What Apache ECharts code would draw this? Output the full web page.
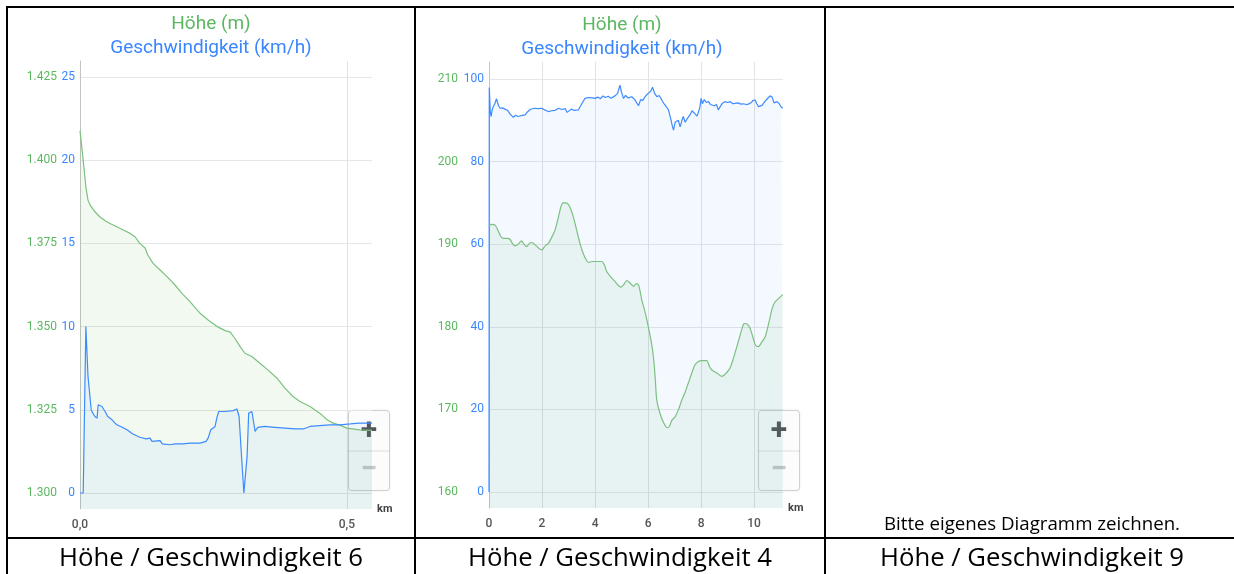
<!DOCTYPE html>
<html>
<head>
<meta charset="utf-8">
<script src="https://cdn.jsdelivr.net/npm/echarts@6/dist/echarts.min.js"></script>
<style>
html,body{margin:0;padding:0;background:#fff;}
body{width:1234px;height:574px;overflow:hidden;position:relative;}
#chart{position:absolute;left:0;top:0;width:1234px;height:574px;}
.ln{position:absolute;background:#000;z-index:5;}
.cap{position:absolute;font-family:'Open Sans',sans-serif;font-size:25.7px;line-height:25px;color:#000;text-align:center;white-space:nowrap;z-index:5;}
.note{position:absolute;font-family:'Open Sans',sans-serif;font-size:18.7px;line-height:18px;color:#000;text-align:center;white-space:nowrap;z-index:5;}
</style>
</head>
<body>
<div id="chart"></div>
<div class="ln" style="left:6px;top:6px;width:1240px;height:2px"></div>
<div class="ln" style="left:6px;top:6px;width:2px;height:580px"></div>
<div class="ln" style="left:414px;top:6px;width:2px;height:580px"></div>
<div class="ln" style="left:824px;top:6px;width:2px;height:580px"></div>
<div class="ln" style="left:6px;top:537px;width:1240px;height:2px"></div>
<div class="cap" style="left:8px;width:406px;top:544px">Höhe / Geschwindigkeit 6</div>
<div class="cap" style="left:416px;width:408px;top:544px">Höhe / Geschwindigkeit 4</div>
<div class="cap" style="left:826px;width:412px;top:544px">Höhe / Geschwindigkeit 9</div>
<div class="note" style="left:826px;width:412px;top:514px">Bitte eigenes Diagramm zeichnen.</div>
<script>
// ---------- Chart 1 (Höhe / Geschwindigkeit 6) ----------
const km1Alt = [0.000,0.006,0.011,0.015,0.019,0.028,0.037,0.047,0.056,0.069,0.081,0.094,0.103,0.112,0.122,0.127,0.137,0.150,0.163,0.178,0.191,0.206,0.225,0.240,0.257,0.272,0.281,0.290,0.300,0.309,0.322,0.337,0.352,0.369,0.384,0.399,0.412,0.431,0.449,0.463,0.474,0.487,0.500,0.524,0.547];
const alt1   = [1408.8,1400,1392,1388,1386.5,1384.5,1383,1381.8,1381,1380,1379,1378,1377,1375,1373.6,1371.5,1369,1367,1365,1362.5,1360,1357.5,1354,1352,1350,1348.8,1348.4,1346.5,1344,1342,1341,1339,1337,1334.5,1331.5,1329,1327.5,1326,1324,1322,1321,1320.4,1319.5,1319,1318.8];
const km1Spd = [0,0.006,0.011,0.015,0.021,0.024,0.028,0.032,0.034,0.041,0.047,0.052,0.060,0.069,0.079,0.088,0.099,0.112,0.124,0.131,0.135,0.150,0.154,0.169,0.178,0.193,0.206,0.225,0.236,0.240,0.245,0.253,0.257,0.260,0.272,0.287,0.294,0.298,0.303,0.307,0.313,0.316,0.322,0.328,0.333,0.346,0.365,0.384,0.403,0.418,0.431,0.449,0.468,0.487,0.506,0.524,0.547];
const spd1   = [0,0,10,7,5.0,4.8,4.6,4.5,5.3,5.2,4.9,4.6,4.4,4.1,3.95,3.8,3.55,3.35,3.25,3.3,3.1,3.15,2.95,2.9,2.95,2.95,3.0,3.0,3.1,3.3,3.8,4.0,4.6,4.9,4.9,4.95,5.05,4.6,2.0,0,2.2,4.8,4.9,3.7,3.95,4.0,3.95,3.9,3.85,3.85,4.0,4.05,4.1,4.1,4.15,4.2,4.2];
const xTicks1   = [0, 0.5];
const spdTicks1 = [0, 5, 10, 15, 20, 25];
const altTicks1 = [1300, 1325, 1350, 1375, 1400, 1425];

// ---------- Chart 2 (Höhe / Geschwindigkeit 4) ----------
const km2Alt = [0.0,0.1,0.23,0.35,0.45,0.54,0.68,0.79,0.9,0.98,1.1,1.23,1.32,1.42,1.52,1.61,1.75,1.88,1.99,2.12,2.24,2.36,2.49,2.62,2.72,2.8,2.9,3.0,3.09,3.18,3.3,3.43,3.55,3.65,3.75,3.9,4.05,4.25,4.35,4.44,4.6,4.75,4.88,4.98,5.1,5.2,5.32,5.45,5.55,5.61,5.68,5.76,5.9,6.01,6.12,6.2,6.27,6.33,6.45,6.6,6.72,6.8,6.9,7.02,7.15,7.27,7.4,7.52,7.65,7.77,7.9,8.03,8.12,8.22,8.3,8.4,8.6,8.78,8.95,9.09,9.22,9.35,9.5,9.6,9.66,9.75,9.85,9.95,10.05,10.16,10.3,10.42,10.55,10.68,10.79,10.95,11.08];
const alt2   = [192.3,192.4,192.3,191.6,190.9,190.7,190.7,190.6,190.0,189.8,190.0,190.4,190.0,189.7,190.1,190.2,189.9,189.5,189.3,189.8,190.1,190.8,191.7,193.3,194.6,195.0,195.0,194.8,194.2,193.3,191.8,190.1,188.9,188.2,187.8,187.9,187.9,187.9,187.5,186.7,186.0,185.5,185.0,184.8,185.2,185.6,185.3,184.9,185.2,185.2,184.6,183.3,181.6,180.0,178.2,176.4,173.8,171.1,169.5,168.3,167.8,167.9,168.7,169.1,170.0,171.1,172.1,173.2,174.4,175.4,175.8,175.9,175.9,175.9,175.3,174.8,174.4,174.0,174.4,175.0,176.2,177.6,179.3,180.3,180.4,180.3,179.8,178.8,177.8,177.6,178.2,178.8,180.4,182.2,183.0,183.5,183.9];
const km2Spd = [0,0.01,0.05,0.08,0.12,0.16,0.22,0.28,0.31,0.36,0.42,0.5,0.6,0.7,0.8,0.92,1.0,1.1,1.2,1.36,1.45,1.55,1.7,1.85,1.99,2.1,2.24,2.35,2.5,2.62,2.75,2.88,2.95,3.0,3.1,3.2,3.37,3.5,3.62,3.75,3.9,4.0,4.1,4.2,4.3,4.38,4.5,4.6,4.75,4.85,4.94,5.0,5.07,5.15,5.25,5.38,5.5,5.64,5.72,5.8,5.89,6.0,6.1,6.17,6.25,6.33,6.42,6.52,6.6,6.7,6.77,6.85,6.92,6.96,7.02,7.08,7.14,7.21,7.27,7.33,7.4,7.46,7.52,7.6,7.66,7.71,7.78,7.85,7.9,7.95,8.0,8.05,8.12,8.2,8.28,8.35,8.42,8.5,8.58,8.65,8.72,8.8,8.9,9.0,9.1,9.2,9.28,9.4,9.5,9.6,9.7,9.78,9.9,9.96,10.04,10.1,10.17,10.23,10.3,10.4,10.5,10.6,10.68,10.75,10.86,10.95,11.02,11.08];
const spd2   = [0,97.9,92,90.9,92.5,93.3,94,95.2,94.9,93.5,92.9,93,92.7,92.4,91.5,90.7,91.2,90.9,91.1,91.3,92,92.6,92.9,92.8,92.9,92.5,92.1,92.3,92.4,92.9,92.6,92.8,91.9,92.1,92.7,92.4,92.5,94,95.3,95.5,95.4,95.3,95.6,95.2,95.9,95.5,95.8,95.3,95.9,96.5,98.5,96.8,95.3,96,95.4,95.7,95.0,93.5,95,94.8,95.7,96.5,97,98.0,96.5,95.7,96.0,94.9,94,93.2,92.5,90.5,88.5,87.6,89.5,89.3,90,88.4,89.8,90.9,89.5,90.2,90.5,91.5,92.3,92.5,91.5,91.0,91.3,93,95.3,94,95,94.3,94.5,93.8,94.2,93.5,93.8,92.5,93.3,94.1,94.5,94.3,94.5,94.0,94.1,94.2,93.9,94.0,93.8,93.9,94.3,94.8,94.9,94.0,93.3,92.9,93.6,94.5,95.2,95.9,95.6,94.2,94.5,94.0,93.2,92.9];
const xTicks2   = [0, 2, 4, 6, 8, 10];
const spdTicks2 = [0, 20, 40, 60, 80, 100];
const altTicks2 = [160, 170, 180, 190, 200, 210];

const GREEN = '#5cb860', BLUE = '#3a86ff';
const GREEN_LINE = '#7cc17f', BLUE_LINE = '#3d8bff';
const zip = (xs, ys) => xs.map((x, i) => [x, ys[i]]);
const deNum = v => v >= 1000 ? Math.floor(v / 1000) + '.' + String(v % 1000).padStart(3, '0') : String(v);

function xAxisCfg(grid, max, ticks, fmt) {
  return {
    gridIndex: grid, type: 'value', min: 0, max: max, position: 'bottom',
    name: 'km', nameLocation: 'end', nameGap: 5,
    nameTextStyle: {fontSize: 11, color: '#444', fontWeight: 'bold', fontFamily: 'Roboto'},
    axisLine: {show: false, onZero: false}, axisTick: {show: false, customValues: ticks},
    axisLabel: {customValues: ticks, formatter: fmt, fontSize: 12, color: '#555', margin: 10, fontFamily: 'Roboto', fontWeight: 500},
    splitLine: {show: true, lineStyle: {color: '#e2e2e2', width: 1}}
  };
}
function spdAxisCfg(grid, min, max, ticks) {
  return {
    gridIndex: grid, type: 'value', min: min, max: max, position: 'left',
    axisLine: {show: true, onZero: false, lineStyle: {color: '#c4c4c4'}},
    axisTick: {show: false, customValues: ticks},
    axisLabel: {customValues: ticks, color: BLUE, fontSize: 12, margin: 5, fontFamily: 'Roboto'},
    splitLine: {show: true, lineStyle: {color: '#e6e6e6'}}
  };
}
function altAxisCfg(grid, min, max, ticks, offset) {
  return {
    gridIndex: grid, type: 'value', min: min, max: max, position: 'left', offset: offset,
    axisLine: {show: false, onZero: false}, axisTick: {show: false, customValues: ticks},
    axisLabel: {customValues: ticks, color: GREEN, fontSize: 12, margin: 5, formatter: deNum, fontFamily: 'Roboto'},
    splitLine: {show: false}
  };
}
function areaSeries(name, xi, yi, data, lineColor, fill, smooth) {
  return {
    name: name, type: 'line', xAxisIndex: xi, yAxisIndex: yi, data: data,
    showSymbol: false, smooth: smooth, silent: true,
    lineStyle: {color: lineColor, width: 1.2},
    areaStyle: {color: fill, origin: 'start'}
  };
}
function zoomCtl(x, y) {
  return {
    type: 'group', x: x, y: y, z: 100,
    children: [
      {type: 'rect', shape: {x: 0, y: 0, width: 41, height: 80, r: 3},
       style: {fill: 'rgba(255,255,255,0.88)', stroke: 'rgba(0,0,0,0.16)', lineWidth: 1, shadowBlur: 3, shadowColor: 'rgba(0,0,0,0.12)'}},
      {type: 'line', shape: {x1: 0, y1: 40.5, x2: 41, y2: 40.5}, style: {stroke: 'rgba(0,0,0,0.12)', lineWidth: 1}},
      {type: 'text', x: 20.5, y: 21, style: {text: '+', fill: '#555', font: 'bold 30px Roboto', align: 'center', verticalAlign: 'middle'}},
      {type: 'text', x: 20.5, y: 60, style: {text: '−', fill: '#c8c8c8', font: 'bold 30px Roboto', align: 'center', verticalAlign: 'middle'}}
    ]
  };
}

const chart = echarts.init(document.getElementById('chart'), null, {renderer: 'canvas'});
chart.setOption({
  animation: false,
  backgroundColor: 'transparent',
  textStyle: {fontFamily: 'Roboto'},
  title: [
    {text: 'Höhe (m)', left: 211, top: 15, textAlign: 'center', padding: 0, textStyle: {color: GREEN, fontSize: 19, fontWeight: 'normal', fontFamily: 'Roboto'}},
    {text: 'Geschwindigkeit (km/h)', left: 211, top: 39, textAlign: 'center', padding: 0, textStyle: {color: BLUE, fontSize: 19, fontWeight: 'normal', fontFamily: 'Roboto'}},
    {text: 'Höhe (m)', left: 622, top: 16, textAlign: 'center', padding: 0, textStyle: {color: GREEN, fontSize: 19, fontWeight: 'normal', fontFamily: 'Roboto'}},
    {text: 'Geschwindigkeit (km/h)', left: 622, top: 40, textAlign: 'center', padding: 0, textStyle: {color: BLUE, fontSize: 19, fontWeight: 'normal', fontFamily: 'Roboto'}}
  ],
  grid: [
    {left: 80, top: 61, width: 292, height: 448, containLabel: false, outerBoundsMode: 'none'},
    {left: 489, top: 62, width: 294, height: 446, containLabel: false, outerBoundsMode: 'none'}
  ],
  xAxis: [
    xAxisCfg(0, 0.547, xTicks1, v => v.toFixed(1).replace('.', ',')),
    xAxisCfg(1, 11.09, xTicks2, v => String(v))
  ],
  yAxis: [
    spdAxisCfg(0, -0.96, 25.96, spdTicks1),
    altAxisCfg(0, 1295.2, 1429.8, altTicks1, 18),
    spdAxisCfg(1, -3.87, 104.1, spdTicks2),
    altAxisCfg(1, 158.065, 212.05, altTicks2, 26)
  ],
  series: [
    areaSeries('Höhe 6', 0, 1, zip(km1Alt, alt1), GREEN_LINE, 'rgba(76,175,80,0.11)', false),
    areaSeries('Geschwindigkeit 6', 0, 0, zip(km1Spd, spd1), BLUE_LINE, 'rgba(41,121,255,0.07)', false),
    areaSeries('Geschwindigkeit 4', 1, 2, zip(km2Spd, spd2), BLUE_LINE, 'rgba(41,121,255,0.07)', false),
    areaSeries('Höhe 4', 1, 3, zip(km2Alt, alt2), GREEN_LINE, 'rgba(76,175,80,0.10)', 0.3)
  ],
  graphic: [zoomCtl(348.5, 410.5), zoomCtl(758.5, 410.5)]
});
</script>
</body>
</html>
